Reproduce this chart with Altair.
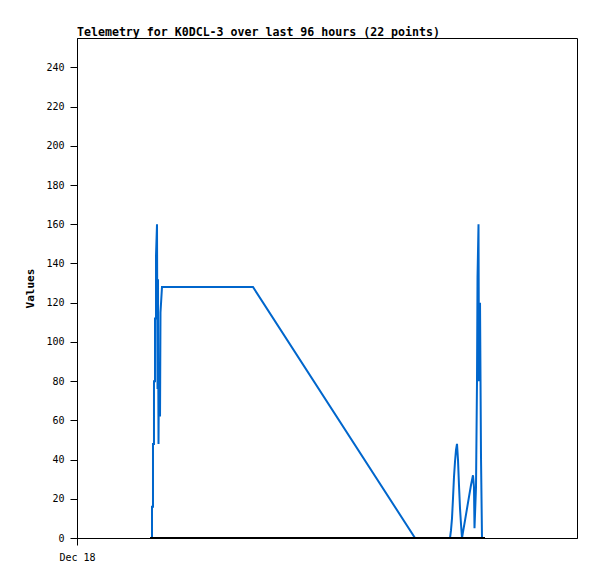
import altair as alt
import pandas as pd

# hours since start (Dec 18) and values
hours = [14.30, 14.40, 14.40, 14.59, 14.59, 14.78, 14.78, 14.98, 14.98, 15.17, 15.17, 15.36,
         15.46, 15.55, 15.65, 15.74, 15.94, 16.03, 16.32, 33.79, 64.90,
         71.62, 71.81, 72.00, 72.19, 72.38, 72.58, 72.77, 72.96, 73.15, 73.34, 73.54, 73.73, 73.92,
         74.11, 74.50, 74.88, 75.26, 75.65, 76.03, 76.22, 76.32, 76.61, 76.80, 76.90, 77.09,
         77.18, 77.38, 77.57, 77.76]
values = [0, 0, 16, 16, 48, 48, 80, 80, 112, 112, 144, 160,
          76, 132, 48, 88, 62, 115, 128, 128, 0,
          0, 4, 10, 20, 31, 39, 45, 48, 40, 27, 15, 7, 0,
          3, 9, 15, 21, 27, 32, 26, 5, 26, 80, 133, 160,
          80, 120, 41, 0]

zero_hours = [14.02, 78.34]
zero_values = [0, 0]

df = pd.DataFrame({"h": hours, "v": values, "i": list(range(len(hours)))})
dz = pd.DataFrame({"h": zero_hours, "v": zero_values})

FONT = "DejaVu Sans Mono"

x = alt.X("h:Q", scale=alt.Scale(domain=[0, 96], nice=False, zero=False),
          axis=alt.Axis(values=[0], labelExpr="'Dec 18'", title=None, grid=False,
                        tickSize=7, labelFont=FONT, labelFontSize=10, labelColor="black",
                        labelFlush=False, labelAlign="center",
                        domainColor="black", tickColor="black", labelPadding=7))
y = alt.Y("v:Q", scale=alt.Scale(domain=[0, 255], nice=False),
          axis=alt.Axis(values=list(range(0, 241, 20)), title="Values", grid=False,
                        tickSize=7, labelFont=FONT, labelFontSize=10, labelColor="black",
                        titleFont=FONT, titleFontSize=11, titleFontWeight="bold",
                        titleColor="black", titlePadding=10,
                        domainColor="black", tickColor="black", labelPadding=6))

blue = alt.Chart(df).mark_line(color="#0066cc", strokeWidth=2, interpolate="linear").encode(
    x=x, y=y, order="i:Q")
black = alt.Chart(dz).mark_line(color="black", strokeWidth=2).encode(x="h:Q", y="v:Q")

chart = (blue + black).properties(
    width=500, height=500,
    background="white",
    title=alt.TitleParams("Telemetry for K0DCL-3 over last 96 hours (22 points)",
                          anchor="start", frame="group", font=FONT, fontSize=11.6,
                          fontWeight="bold", color="black", offset=-1),
    autosize=alt.AutoSizeParams(type="none"),
    padding={"left": 69, "top": 30, "right": 12, "bottom": 30},
).configure_view(stroke="black", strokeWidth=1)

chart.save("out.html", embed_options={"renderer": "svg", "actions": False})
